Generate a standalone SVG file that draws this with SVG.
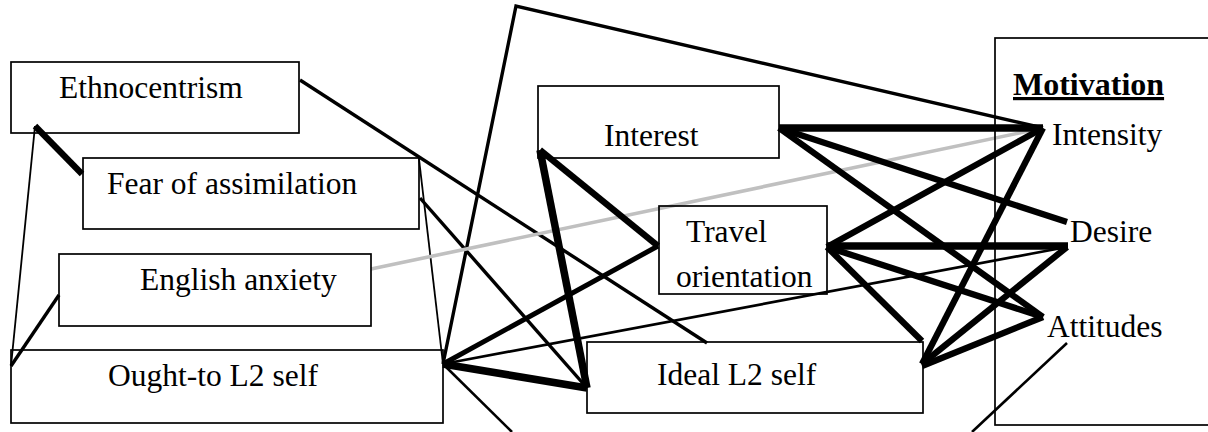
<svg xmlns="http://www.w3.org/2000/svg" width="1208" height="432" viewBox="0 0 1208 432">
<style>
.box{fill:none;stroke:#000;stroke-width:1.7}
.t{font-family:"Liberation Serif","Times New Roman",serif;font-size:31.5px;fill:#000}
.b{font-weight:bold;font-size:32px;text-decoration:underline}
.c line,.c polyline{stroke:#000;fill:none;stroke-linecap:butt;stroke-linejoin:miter}
.w1{stroke-width:1.8}
.w2{stroke-width:2.6}
.w3{stroke-width:3.4}
.w4{stroke-width:5}
.w5{stroke-width:6.3}
.w6{stroke-width:7.5}
.g{stroke:#c0c0c0 !important;stroke-width:3.6}
</style>
<rect width="1208" height="432" fill="#fff"/>
<g id="connectors" class="c">
  <line class="w5" x1="35" y1="126" x2="82" y2="174"/>
  <line class="w1" x1="35" y1="126" x2="11" y2="366"/>
  <line class="w3" x1="59" y1="295" x2="11" y2="366"/>
  <line class="w3" x1="300" y1="80" x2="707" y2="343"/>
  <line class="w3" x1="420" y1="198" x2="587" y2="388"/>
  <line class="w1" x1="419" y1="159" x2="443" y2="364"/>
  <polyline class="w3" points="443,364 516,6 1043,128"/>
  <line class="w4" x1="443" y1="364" x2="658" y2="246"/>
  <line class="w2" x1="443" y1="364" x2="1067" y2="247"/>
  <line class="w6" x1="443" y1="364" x2="587" y2="388"/>
  <line class="w2" x1="443" y1="364" x2="512" y2="432"/>
  <line class="g" x1="371" y1="269" x2="1043" y2="128"/>
  <line class="w5" x1="540" y1="150" x2="658" y2="246"/>
  <line class="w6" x1="540" y1="150" x2="587" y2="388"/>
  <line class="w6" x1="779" y1="128" x2="1043" y2="128"/>
  <line class="w5" x1="779" y1="128" x2="1067" y2="222"/>
  <line class="w5" x1="779" y1="128" x2="1043" y2="317"/>
  <line class="w5" x1="1043" y1="128" x2="827" y2="247"/>
  <line class="w5" x1="1043" y1="128" x2="922" y2="364"/>
  <line class="w6" x1="827" y1="246" x2="1068" y2="246"/>
  <line class="w5" x1="827" y1="247" x2="1043" y2="317"/>
  <line class="w5" x1="827" y1="247" x2="922" y2="341"/>
  <line class="w5" x1="1067" y1="247" x2="922" y2="364"/>
  <line class="w5" x1="1043" y1="317" x2="922" y2="366"/>
  <line class="w2" x1="1067" y1="343" x2="972" y2="432"/>
</g>
<g id="motivation">
  <rect class="box" x="995" y="38" width="230" height="387"/>
  <text class="t b" x="1013" y="95">Motivation</text>
  <text class="t" x="1052" y="145">Intensity</text>
  <text class="t" x="1070" y="242">Desire</text>
  <text class="t" x="1047" y="337">Attitudes</text>
</g>
<g id="ethnocentrism">
  <rect class="box" x="11" y="62" width="288" height="71"/>
  <text class="t" x="59" y="98">Ethnocentrism</text>
</g>
<g id="fear">
  <rect class="box" x="83" y="158" width="336" height="71"/>
  <text class="t" x="107" y="194">Fear of assimilation</text>
</g>
<g id="english">
  <rect class="box" x="59" y="254" width="312" height="72"/>
  <text class="t" x="140" y="290">English anxiety</text>
</g>
<g id="oughtto">
  <rect class="box" x="11" y="350" width="432" height="73"/>
  <text class="t" x="108" y="386">Ought-to L2 self</text>
</g>
<g id="interest">
  <rect class="box" x="538" y="86" width="241" height="72"/>
  <text class="t" x="604" y="146">Interest</text>
</g>
<g id="travel">
  <rect class="box" x="659" y="206" width="168" height="88"/>
  <text class="t" x="686" y="242">Travel</text>
  <text class="t" x="676" y="287">orientation</text>
</g>
<g id="ideal">
  <rect class="box" x="587" y="342" width="336" height="71"/>
  <text class="t" x="657" y="385">Ideal L2 self</text>
</g>
</svg>
